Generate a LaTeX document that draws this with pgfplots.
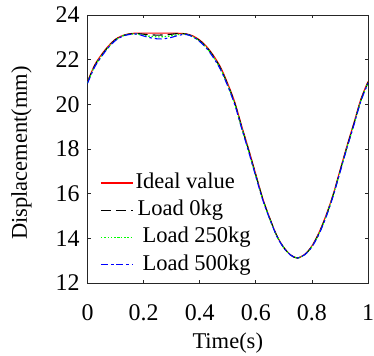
\documentclass[border=0pt]{standalone}
\usepackage{fontspec}
\setmainfont{Liberation Serif}
\usepackage{pgfplots}
\pgfplotsset{compat=1.18}
\begin{document}
\begin{tikzpicture}
\begin{axis}[
 at={(0,0)}, anchor=south west,
 scale only axis, width=280.5bp, height=268bp,
 xmin=0, xmax=1, ymin=12, ymax=24,
 xtick={0,0.2,0.4,0.6,0.8,1}, xticklabels={0,0.2,0.4,0.6,0.8,1},
 ytick={12,14,16,18,20,22,24},
 tick align=inside, major tick length=3.5bp,
 axis line style={draw=black!85, line width=0.8bp},
 every tick/.style={black!85, line width=0.7bp},
 tick label style={font=\fontsize{24}{28}\selectfont},
 /pgf/number format/assume math mode=true,
 xticklabel style={yshift=-18bp},
 yticklabel style={xshift=-4.5bp},
 xlabel={Time(s)}, ylabel={Displacement(mm)},
 xlabel style={at={(axis description cs:0.5,-0.224)}, anchor=center, font=\fontsize{22.6}{27}\selectfont},
 ylabel style={at={(axis description cs:-0.235,0.485)}, anchor=center, font=\fontsize{22.6}{27}\selectfont},
 legend cell align=left,
 legend style={at={(axis description cs:0.045,0.413)}, anchor=north west, draw=none, fill=none, inner sep=0pt,
   font=\fontsize{22.6}{27}\selectfont, row sep=6.2bp,
   nodes={inner xsep=2bp, inner ysep=0pt, text height=16bp, text depth=5bp}},
 legend image code/.code={\draw[mark repeat=2,mark phase=2,#1] plot coordinates {(0bp,0bp) (16bp,0bp) (32bp,0bp)};},
]
\addplot[color=red, line width=1.1bp, smooth] coordinates {
(0,21.02)(0.025,21.75)(0.05,22.23)(0.075,22.62)(0.1,22.92)(0.125,23.08)(0.15,23.16)(0.175,23.19)(0.2,23.19)(0.225,23.19)(0.25,23.19)(0.275,23.19)(0.3,23.19)(0.325,23.18)(0.35,23.16)(0.375,23.07)(0.4,22.88)(0.425,22.58)(0.45,22.17)(0.475,21.65)(0.5,20.93)(0.525,20.10)(0.55,19.02)(0.575,17.97)(0.6,16.87)(0.625,15.78)(0.65,14.90)(0.675,14.12)(0.7,13.59)(0.725,13.25)(0.748,13.12)(0.775,13.29)(0.8,13.66)(0.825,14.25)(0.85,15.02)(0.875,15.94)(0.9,17.04)(0.925,18.14)(0.95,19.18)(0.975,20.25)(1,21.02)};
\addlegendentry{Ideal value}
\addplot[color=black, line width=1.1bp, dash pattern=on 10bp off 5bp, smooth] coordinates {
(0,20.99)(0.025,21.71)(0.05,22.19)(0.075,22.59)(0.1,22.90)(0.125,23.07)(0.15,23.15)(0.175,23.17)(0.2,23.14)(0.225,23.11)(0.25,23.10)(0.275,23.11)(0.3,23.14)(0.325,23.17)(0.35,23.15)(0.375,23.05)(0.4,22.85)(0.425,22.55)(0.45,22.13)(0.475,21.60)(0.5,20.88)(0.525,20.05)(0.55,18.97)(0.575,17.92)(0.6,16.83)(0.625,15.75)(0.65,14.88)(0.675,14.11)(0.7,13.58)(0.725,13.25)(0.748,13.12)(0.775,13.28)(0.8,13.64)(0.825,14.22)(0.85,14.98)(0.875,15.90)(0.9,16.99)(0.925,18.09)(0.95,19.13)(0.975,20.20)(1,20.98)};
\addlegendentry{\hspace{2bp}Load 0kg}
\addplot[color=green, line width=1.2bp, dash pattern=on 1.5bp off 1.8bp, smooth] coordinates {
(0,20.97)(0.025,21.69)(0.05,22.17)(0.075,22.57)(0.1,22.88)(0.125,23.06)(0.15,23.14)(0.175,23.15)(0.2,23.09)(0.225,23.04)(0.25,23.02)(0.275,23.03)(0.3,23.07)(0.325,23.13)(0.35,23.14)(0.375,23.04)(0.4,22.83)(0.425,22.53)(0.45,22.10)(0.475,21.57)(0.5,20.85)(0.525,20.02)(0.55,18.94)(0.575,17.89)(0.6,16.80)(0.625,15.73)(0.65,14.87)(0.675,14.10)(0.7,13.58)(0.725,13.24)(0.748,13.12)(0.775,13.27)(0.8,13.63)(0.825,14.20)(0.85,14.96)(0.875,15.88)(0.9,16.97)(0.925,18.07)(0.95,19.11)(0.975,20.18)(1,20.96)};
\addlegendentry{\hspace{7bp}Load 250kg}
\addplot[color=blue, line width=1.1bp, dash pattern=on 7bp off 3bp on 2.5bp off 3bp, smooth] coordinates {
(0,20.94)(0.025,21.66)(0.05,22.14)(0.075,22.55)(0.1,22.86)(0.125,23.05)(0.15,23.13)(0.175,23.15)(0.2,23.06)(0.225,22.98)(0.25,22.93)(0.275,22.94)(0.3,23.00)(0.325,23.09)(0.35,23.13)(0.375,23.03)(0.4,22.81)(0.425,22.50)(0.45,22.07)(0.475,21.54)(0.5,20.82)(0.525,19.99)(0.55,18.91)(0.575,17.86)(0.6,16.77)(0.625,15.71)(0.65,14.86)(0.675,14.09)(0.7,13.57)(0.725,13.24)(0.748,13.12)(0.775,13.27)(0.8,13.62)(0.825,14.18)(0.85,14.94)(0.875,15.86)(0.9,16.95)(0.925,18.05)(0.95,19.09)(0.975,20.16)(1,20.94)};
\addlegendentry{\hspace{7bp}Load 500kg}
\end{axis}
\pgfresetboundingbox
\useasboundingbox (-87.5bp,-73bp) rectangle (286.5bp,283bp);
\end{tikzpicture}
\end{document}
